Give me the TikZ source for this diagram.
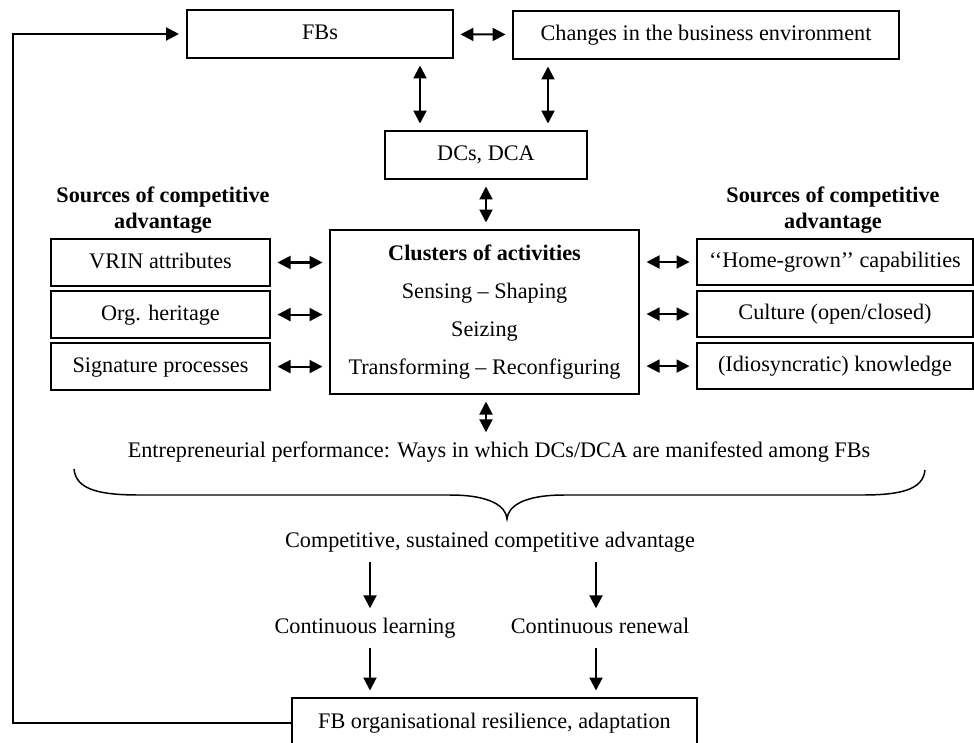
\documentclass[tikz,border=0pt]{standalone}
\usepackage{fontspec}
\setmainfont{Liberation Serif}
\usetikzlibrary{arrows.meta,positioning}

\begin{document}
\begin{tikzpicture}[x=0.54pt,y=-0.54pt,line width=1.1pt,>={Triangle[length=7pt,width=7pt]},
  node distance=2pt,font=\fontsize{12}{14.4}\selectfont,
  main box/.style={draw,inner sep=0pt,minimum height=25.9pt,text height=8.6pt,text depth=2.6pt},
  side box/.style={draw,inner sep=0pt,minimum width=#1,minimum height=25pt,text height=8.6pt,text depth=2.6pt},
  head/.style={align=center,font=\fontsize{12}{14}\selectfont\bfseries},
  plain/.style={inner sep=1pt,text height=8.6pt,text depth=2.6pt},
  link/.style={<->,shorten >=3.5pt,shorten <=3.5pt},
  flow/.style={->,shorten >=3.5pt,shorten <=3.5pt}]

  \clip (0,0) rectangle (974,742);

  \node[main box,minimum width=143.6pt] (fb) at (320,34) {FBs};
  \node[main box,minimum width=208.4pt] (env) at (706,35) {Changes in the business environment};
  \node[main box,minimum width=109.1pt] (dc) at (486,155) {DCs, DCA};
  \node[draw,inner sep=0pt,minimum width=166.9pt,minimum height=88.6pt,align=center] (act) at (484.5,312)
    {\textbf{Clusters of activities}\\[6pt] Sensing -- Shaping\\[6pt] Seizing\\[6pt] Transforming -- Reconfiguring};

  \node[head] (srcl) at (163,210) {Sources of competitive\\advantage};
  \node[side box=118.3pt] (vrin) at (160.5,262.5) {VRIN attributes};
  \node[side box=118.3pt] (org) [below=of vrin] {Org. heritage};
  \node[side box=118.3pt] (sig) [below=of org] {Signature processes};

  \node[head] (srcr) at (833,210) {Sources of competitive\\advantage};
  \node[side box=149pt] (home) at (835,262) {‘‘Home-grown’’ capabilities};
  \node[side box=149pt] (cult) [below=of home] {Culture (open/closed)};
  \node[side box=149pt] (know) [below=of cult] {(Idiosyncratic) knowledge};

  \node[plain] (perf) at (499,452) {Entrepreneurial performance: Ways in which DCs/DCA are manifested among FBs};
  \node[plain] (comp) at (490,542) {Competitive, sustained competitive advantage};
  \node[plain] (learn) at (365,628) {Continuous learning};
  \node[plain] (renew) at (600,628) {Continuous renewal};
  \node[main box,minimum width=218.7pt,minimum height=27pt] (res) at (494.5,723) {FB organisational resilience, adaptation};
  \coordinate (loop) at (13,34);

  \path[link]
    (fb) edge (env)
    (fb.south -| 420,0) edge (dc.north -| 420,0)
    (env.south -| 548,0) edge (dc.north -| 548,0)
    (dc.south) edge (dc.south |- act.north)
    (vrin.east) edge (vrin.east -| act.west)
    (org.east) edge (org.east -| act.west)
    (sig.east) edge (sig.east -| act.west)
    (home.west -| act.east) edge (home.west)
    (cult.west -| act.east) edge (cult.west)
    (know.west -| act.east) edge (know.west)
    (act.south -| 486,0) edge (perf.north -| 486,0);

  \draw[line width=0.8pt] (74,469) .. controls (76,490) and (100,495) .. (140,495) -- (450,495)
    .. controls (490,495) and (506,506) .. (507,519) .. controls (508,506) and (524,495) .. (564,495)
    -- (862,495) .. controls (900,495) and (923,490) .. (925,470);

  \path[flow]
    (comp.south -| 370,0) edge (learn.north -| 370,0)
    (comp.south -| 596,0) edge (renew.north -| 596,0)
    (learn.south -| 370,0) edge (res.north -| 370,0)
    (renew.south -| 596,0) edge (res.north -| 596,0);

  \draw[->,shorten >=3.8pt] (res.west) -| (loop) -- (fb.west);
\end{tikzpicture}
\end{document}
